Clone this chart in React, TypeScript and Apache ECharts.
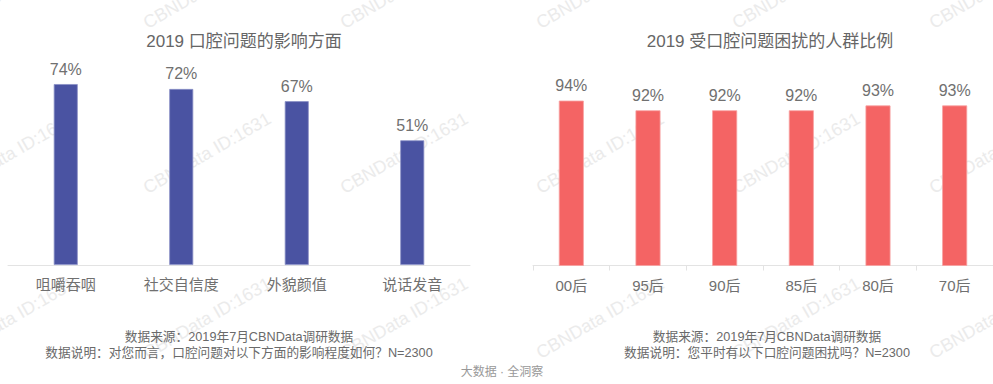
import React, { useEffect, useRef } from "react";
import * as echarts from "echarts";

const leftTitle = "2019 口腔问题的影响方面";
const leftCategories = ["咀嚼吞咽", "社交自信度", "外貌颜值", "说话发音"];
const leftValues = [74, 72, 67, 51];

const rightTitle = "2019 受口腔问题困扰的人群比例";
const rightCategories = ["00后", "95后", "90后", "85后", "80后", "70后"];
const rightValues = [94, 92, 92, 92, 93, 93];

const leftNotes = [
  "数据来源：2019年7月CBNData调研数据",
  "数据说明：对您而言，口腔问题对以下方面的影响程度如何？N=2300",
];
const rightNotes = [
  "数据来源：2019年7月CBNData调研数据",
  "数据说明：您平时有以下口腔问题困扰吗？N=2300",
];
const slogan = "大数据 · 全洞察";
const watermarkText = "CBNData ID:1631";
const watermarkXs = [11, 207, 404, 600, 796, 993];
const watermarkYs = [-12, 153, 318];

const FONT = "'Liberation Sans', Arial, 'Noto Sans CJK SC', sans-serif";

export default function App() {
  const ref = useRef<HTMLDivElement>(null);
  useEffect(() => {
    if (!ref.current) return;
    const chart = echarts.init(ref.current, undefined, { renderer: "svg" });
    const graphics: any[] = [];
    watermarkYs.forEach((y) =>
      watermarkXs.forEach((x) =>
        graphics.push({
          type: "text",
          x,
          y,
          rotation: Math.PI / 6,
          z: -10,
          silent: true,
          style: {
            text: watermarkText,
            fill: "#ebebeb",
            font: `18px ${FONT}`,
            textAlign: "center",
            textVerticalAlign: "middle",
          },
        })
      )
    );
    const noteStyle = (text: string, x: number, y: number) => ({
      type: "text",
      x,
      y,
      style: {
        text,
        fill: "#6a6a6a",
        font: `12.7px ${FONT}`,
        textAlign: "center",
        textVerticalAlign: "middle",
      },
    });
    leftNotes.forEach((t, i) => graphics.push(noteStyle(t, 239, 337 + i * 16)));
    rightNotes.forEach((t, i) => graphics.push(noteStyle(t, 767, 337 + i * 16)));
    graphics.push({
      type: "text",
      x: 502,
      y: 372,
      style: {
        text: slogan,
        fill: "#999",
        font: `12px ${FONT}`,
        textAlign: "center",
        textVerticalAlign: "middle",
      },
    });

    const axisLabel = { color: "#707070", fontSize: 15, margin: 12, fontFamily: FONT };
    const valueLabel = {
      show: true,
      position: "top",
      distance: 7,
      formatter: "{c}%",
      color: "#707070",
      fontSize: 16,
      fontFamily: FONT,
    };

    chart.setOption({
      animation: false,
      backgroundColor: "#fff",
      title: [
        {
          text: leftTitle,
          left: 239,
          top: 28,
          textAlign: "center",
          textStyle: { color: "#666", fontSize: 17, fontWeight: "normal", fontFamily: FONT },
        },
        {
          text: rightTitle,
          left: 765,
          top: 28,
          textAlign: "center",
          textStyle: { color: "#666", fontSize: 17, fontWeight: "normal", fontFamily: FONT },
        },
      ],
      graphic: graphics,
      grid: [
        { left: 8, width: 462, top: 20.5, height: 244.5 },
        { left: 533, width: 465, top: 71.5, height: 194 },
      ],
      xAxis: [
        {
          type: "category",
          gridIndex: 0,
          data: leftCategories,
          axisLine: { lineStyle: { color: "#e3e3e3" } },
          axisTick: { show: false },
          axisLabel,
        },
        {
          type: "category",
          gridIndex: 1,
          data: rightCategories,
          axisLine: { lineStyle: { color: "#e3e3e3" } },
          axisTick: { show: true, length: 5, lineStyle: { color: "#e3e3e3" } },
          axisLabel,
        },
      ],
      yAxis: [
        { type: "value", gridIndex: 0, min: 0, max: 100, show: false, splitLine: { show: false } },
        { type: "value", gridIndex: 1, min: 60, max: 100, show: false, splitLine: { show: false } },
      ],
      series: [
        {
          type: "bar",
          xAxisIndex: 0,
          yAxisIndex: 0,
          data: leftValues,
          barWidth: 24,
          itemStyle: { color: "#4a53a2", borderColor: "#8a90c6", borderWidth: 0.8 },
          label: valueLabel,
        },
        {
          type: "bar",
          xAxisIndex: 1,
          yAxisIndex: 1,
          data: rightValues,
          barWidth: 25,
          itemStyle: { color: "#f46464", borderColor: "#f8a2a2", borderWidth: 0.8 },
          label: valueLabel,
        },
      ],
    });
    return () => chart.dispose();
  }, []);
  return (
    <div
      ref={ref}
      style={{ position: "fixed", left: 0, top: 0, width: 993, height: 384, background: "#fff" }}
    />
  );
}
